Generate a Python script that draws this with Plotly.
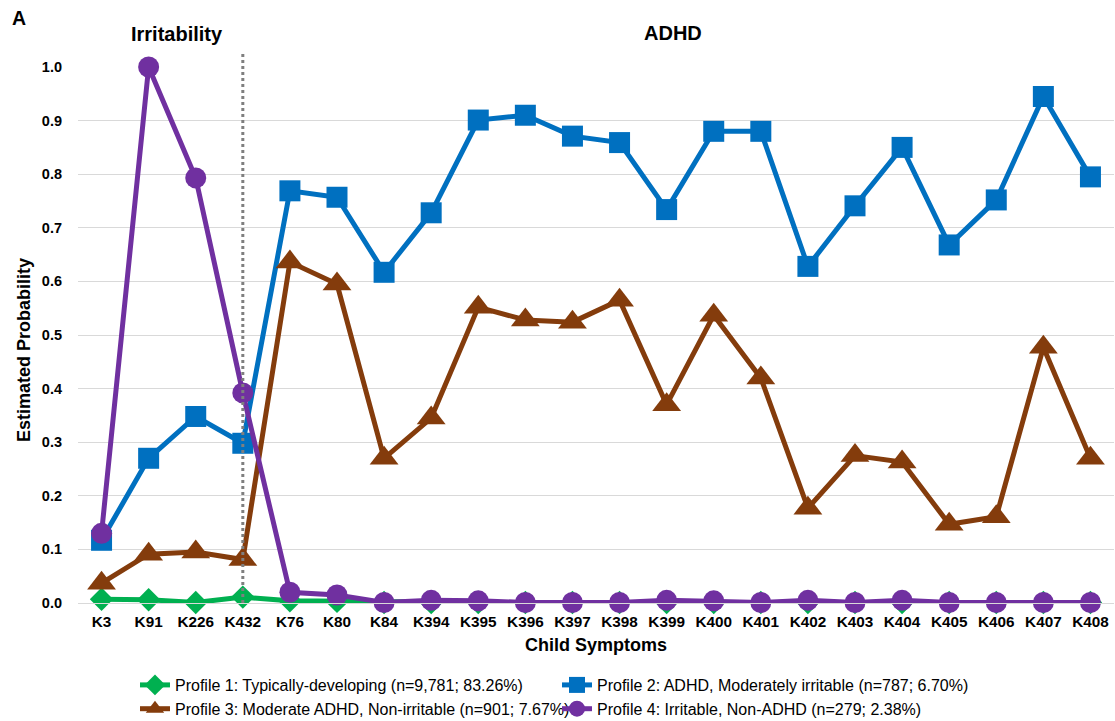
import plotly.graph_objects as go

# Child symptom items (irritability items first, then ADHD items)
symptoms = ["K3", "K91", "K226", "K432", "K76", "K80", "K84", "K394", "K395", "K396", "K397",
            "K398", "K399", "K400", "K401", "K402", "K403", "K404", "K405", "K406", "K407", "K408"]

profile1 = [0.007, 0.006, 0.001, 0.011, 0.004, 0.003, 0.001, 0.001, 0.001, 0.001, 0.001,
            0.001, 0.001, 0.001, 0.001, 0.001, 0.001, 0.001, 0.001, 0.001, 0.001, 0.001]
profile2 = [0.117, 0.270, 0.348, 0.298, 0.769, 0.757, 0.617, 0.728, 0.901, 0.910, 0.871,
            0.859, 0.734, 0.880, 0.880, 0.628, 0.741, 0.850, 0.668, 0.752, 0.945, 0.795]
profile3 = [0.037, 0.091, 0.095, 0.081, 0.636, 0.595, 0.270, 0.345, 0.552, 0.528, 0.524,
            0.565, 0.370, 0.537, 0.420, 0.177, 0.275, 0.263, 0.147, 0.161, 0.477, 0.270]
profile4 = [0.130, 1.000, 0.793, 0.392, 0.020, 0.015, 0.001, 0.005, 0.004, 0.001, 0.001,
            0.001, 0.005, 0.004, 0.001, 0.005, 0.001, 0.005, 0.001, 0.001, 0.001, 0.001]

names = ["Profile 1: Typically-developing (n=9,781; 83.26%)",
         "Profile 2: ADHD, Moderately irritable (n=787; 6.70%)",
         "Profile 3: Moderate ADHD, Non-irritable (n=901; 7.67%)",
         "Profile 4: Irritable, Non-ADHD (n=279; 2.38%)"]

series = [
    (profile1, names[0], "#00B050", "diamond", 18),
    (profile2, names[1], "#0070C0", "square", 21),
    (profile3, names[2], "#843C0C", "triangle-up", 25),
    (profile4, names[3], "#7030A0", "circle", 21),
]

FONT = "Liberation Sans, Arial, sans-serif"

fig = go.Figure()
for vals, name, color, symbol, size in series:
    fig.add_trace(go.Scatter(
        x=symptoms, y=vals, name=name, mode="lines+markers",
        line=dict(color=color, width=5),
        marker=dict(color=color, symbol=symbol, size=size, line=dict(width=0)),
        cliponaxis=False,
    ))

# Divider between irritability and ADHD items
fig.add_shape(type="line", xref="x", yref="paper", x0=3, x1=3, y0=0, y1=1.026,
              line=dict(color="#7F7F7F", width=3, dash="dot"))

fig.add_annotation(text="<b>A</b>", xref="paper", yref="paper", x=-0.0656, y=1.0914,
                   xanchor="left", yanchor="middle", showarrow=False,
                   font=dict(size=19.5, color="black"))
fig.add_annotation(text="<b>Irritability</b>", xref="x", yref="paper", x=1.6, y=1.0616,
                   xanchor="center", yanchor="middle", showarrow=False,
                   font=dict(size=20, color="black"))
fig.add_annotation(text="<b>ADHD</b>", xref="x", yref="paper", x=12.14, y=1.0634,
                   xanchor="center", yanchor="middle", showarrow=False,
                   font=dict(size=20, color="black"))
# Axis titles
fig.add_annotation(text="<b>Child Symptoms</b>", xref="x", yref="paper", x=10.49, y=-0.0784,
                   xanchor="center", yanchor="middle", showarrow=False,
                   font=dict(size=18, color="black"))
fig.add_annotation(text="<b>Estimated Probability</b>", xref="paper", yref="paper",
                   x=-0.0521, y=0.472, xanchor="center", yanchor="middle", textangle=-90,
                   showarrow=False, font=dict(size=18, color="black"))

fig.update_layout(
    width=1115, height=721,
    margin=dict(l=78, r=1, t=67, b=118, autoexpand=False),
    paper_bgcolor="white", plot_bgcolor="white",
    font=dict(family=FONT, color="black"),
    showlegend=True,
    legend=dict(orientation="h", x=0.055, xanchor="left", yref="container", y=0.0735,
                yanchor="top", font=dict(size=16), entrywidth=377,
                entrywidthmode="pixels", itemwidth=30, tracegroupgap=0,
                bgcolor="rgba(0,0,0,0)"),
    xaxis=dict(
        type="category", range=[-0.5, 21.5], showgrid=False, zeroline=False,
        showline=True, linecolor="#D9D9D9", linewidth=1,
        tickfont=dict(size=15.3), ticklabelstandoff=5,
        tickprefix="<b>", ticksuffix="</b>", ticks="", automargin=False,
    ),
    yaxis=dict(
        range=[0, 1.0], dtick=0.1, tickformat=".1f", showgrid=True,
        gridcolor="#D9D9D9", gridwidth=1, zeroline=False,
        tickfont=dict(size=14.5), ticklabelstandoff=15,
        tickprefix="<b>", ticksuffix="</b>", automargin=False,
    ),
)

fig.write_html("out.html")
